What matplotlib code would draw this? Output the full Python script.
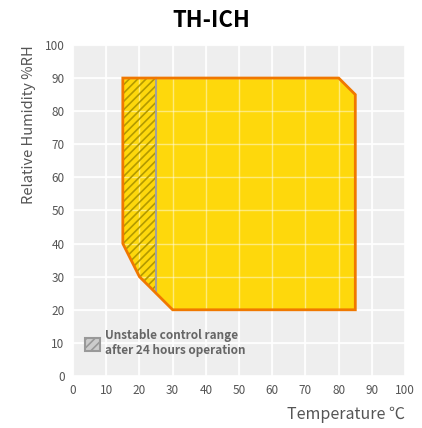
import matplotlib.pyplot as plt
from matplotlib.patches import Polygon, Patch

# Envelope del rango de operacion (temperatura, humedad)
temp_rango = [15, 80, 85, 85, 30, 20, 15]
hum_rango = [90, 90, 85, 20, 20, 30, 40]

# Zona inestable despues de 24 h
temp_inestable = [15, 25, 25, 20, 15]
hum_inestable = [90, 90, 25, 30, 40]

ticks = [0, 10, 20, 30, 40, 50, 60, 70, 80, 90, 100]
leyenda = "Unstable control range\nafter 24 hours operation"

plt.rcParams['font.family'] = ['Noto Sans CJK KR', 'DejaVu Sans']
plt.rcParams['hatch.linewidth'] = 1.2

fig = plt.figure(figsize=(4.22, 4.28), dpi=100)
ax = fig.add_axes([0.173, 0.1215, 0.787, 0.7735])
ax.set_facecolor('#eeeeee')
ax.set_xlim(0, 100)
ax.set_ylim(0, 100)
ax.set_xticks(ticks)
ax.set_yticks(ticks)
ax.grid(True, color='white', linewidth=1.2)
ax.set_axisbelow(True)
for s in ax.spines.values():
    s.set_visible(False)
ax.tick_params(length=0, labelsize=8.5, labelcolor='#555555', pad=6)

rango = Polygon(list(zip(temp_rango, hum_rango)), closed=True,
                facecolor='#ffd700', edgecolor='none', alpha=0.95, zorder=2)
ax.add_patch(rango)
# la grilla se ve a traves del amarillo
for t in ticks:
    ax.axvline(t, color='white', linewidth=1.0, alpha=0.45, zorder=2.5)
    ax.axhline(t, color='white', linewidth=1.0, alpha=0.45, zorder=2.5)

inestable = Polygon(list(zip(temp_inestable, hum_inestable)), closed=True,
                    facecolor='none', edgecolor='#b39a00', hatch='////',
                    linewidth=0, zorder=3)
ax.add_patch(inestable)
ax.plot([25, 25], [90, 25], color='#a0a0a0', linewidth=1.5, zorder=3.5)

borde = Polygon(list(zip(temp_rango, hum_rango)), closed=True,
                facecolor='none', edgecolor='#f07800', linewidth=2, zorder=4)
ax.add_patch(borde)

plt.rcParams['hatch.color'] = 'white'
handle = Patch(facecolor='#cccccc', edgecolor='#999999', hatch='////', linewidth=1.5)
ax.legend([handle], [leyenda], loc='lower left', bbox_to_anchor=(0.005, 0.025),
          frameon=False, handlelength=1.25, handleheight=1.3, handletextpad=0.45,
          labelspacing=0.2, prop={'size': 8.5, 'weight': 'bold'}, labelcolor='#666666')

fig.text(0.5, 0.952, 'TH-ICH', fontsize=16, fontweight='bold', ha='center', va='center')
ax.set_xlabel('Temperature ℃', fontsize=11.5, color='#555555', loc='right', labelpad=6)
ax.set_ylabel('Relative Humidity %RH', fontsize=10.5, color='#555555', loc='top', labelpad=6)

fig.savefig('out.png', dpi=100)
